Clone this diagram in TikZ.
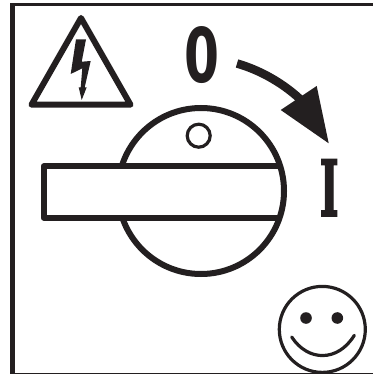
\documentclass[tikz,border=0pt]{standalone}
\usepackage{fontspec}
\setmainfont{Liberation Sans}
\newfontfamily\zerofont{DejaVu Sans}
\newfontfamily\slabfont[FakeBold=2.8]{DejaVu Serif Bold}
\definecolor{ink}{HTML}{231F20}
\tikzset{
 x=1pt,y=-1pt,
 heavy/.style={draw=ink,line width=6pt},
 medium/.style={draw=ink,line width=3.2pt},
 glyph/.style={inner sep=0pt,text=ink,font=\bfseries}
}
\begin{document}
\begin{tikzpicture}
\useasboundingbox (0,0) rectangle (373,374);
% frame
\draw[ink,line width=4.5pt] (12.5,374) -- (12.5,4.5);
\draw[ink,line width=2.6pt] (10.3,4.5) -- (373,4.5);
\draw[ink,line width=1pt] (10.3,373.2) -- (373,373.2);
% warning triangle
\draw[heavy,line join=round] (81,18) -- (130.5,104.7) -- (31.5,104.7) -- cycle;
\fill[ink] (76,39.3) -- (86,39.3) -- (81.7,61.7) -- (90.7,61) -- (84.7,87.3) -- (86.7,87.3) -- (81.7,100) -- (78.7,87.3) -- (80.7,87.3) -- (82.3,68.3) -- (70.7,74) -- cycle;
% dial
\draw[heavy] (201,191) circle[radius=83];
\draw[medium] (198.7,135.7) circle[radius=11.5];
\fill[white] (43.7,166.3) rectangle (277,217.7);
\draw[heavy,line join=round] (278,166.3) -- (43.7,166.3) -- (43.7,217.7) -- (278,217.7);
% arrow
\draw[ink,line width=8.5pt] (237,63.5) .. controls (260,70) and (285,84) .. (303,102);
\fill[ink] (316.7,86) -- (328.7,143.3) -- (280.7,110) -- cycle;
% letters
\node[glyph,anchor=center] (zero) at (201.7,55) {\resizebox{35pt}{56pt}{\zerofont\bfseries 0}};
\node[glyph,anchor=center] (one) at (329.2,187.7) {\resizebox{19pt}{56pt}{\slabfont I}};
% smiley
\draw[ink,line width=3.2pt] (322.3,329.4) circle[radius=43];
\fill[ink] (306,318) circle[radius=5.8];
\fill[ink] (337.3,318) circle[radius=5.8];
\draw[ink,line width=3.2pt,line cap=round] (291.7,337) .. controls (308,362) and (338,362) .. (354.3,335.3);
\end{tikzpicture}
\end{document}
